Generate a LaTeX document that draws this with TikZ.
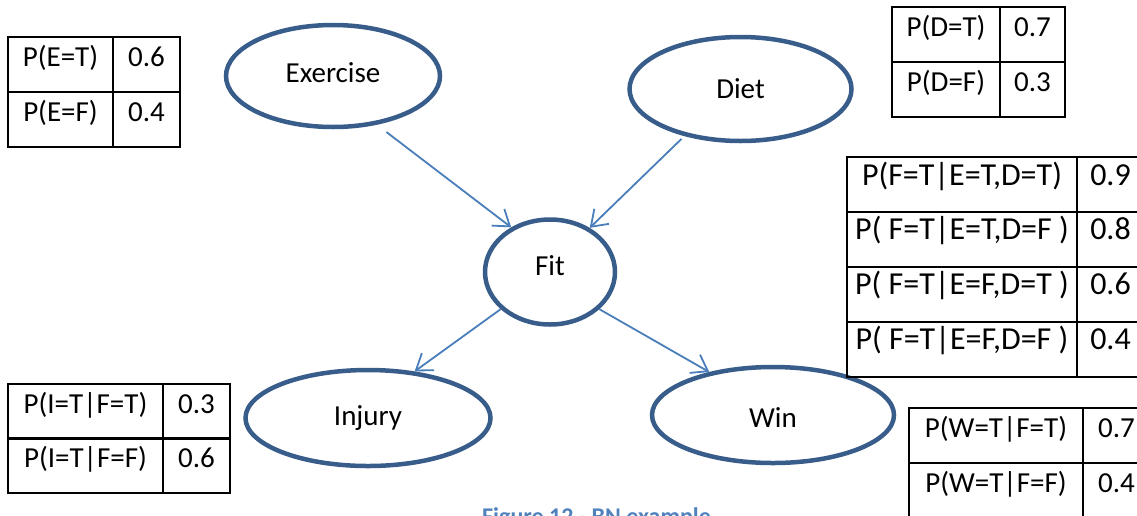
\documentclass[tikz,border=0pt]{standalone}
\usepackage{fontspec}
\setmainfont{Carlito}
\usetikzlibrary{shapes.geometric,arrows.meta}
\definecolor{nodeblue}{RGB}{56,93,138}
\definecolor{linkblue}{RGB}{74,126,187}
\definecolor{capblue}{RGB}{79,129,189}
\tikzset{
  bnnode/.style={ellipse, draw=nodeblue, line width=4.5pt, fill=white, inner sep=0pt,
    font=\fontsize{29}{34}\selectfont},
  link/.style={draw=linkblue, line width=1.8pt,
    -{Straight Barb[length=15pt,width=21pt,line width=1.8pt]}},
  cell/.style={draw=black, line width=2pt, inner xsep=0pt, inner ysep=0pt, outer sep=0pt,
    anchor=north west, text height=29.5pt, text depth=25.5pt,
    font=\fontsize{29}{34}\selectfont},
  bigcell/.style={cell, text height=28.3pt, text depth=26.7pt,
    font=\fontsize{32}{36}\selectfont},
}
\begin{document}
\begin{tikzpicture}[x=1pt,y=-1pt]
\useasboundingbox (0,0) rectangle (1137,515);
\clip (0,0) rectangle (1137,515);

% network nodes
\node[bnnode, minimum width=214pt, minimum height=102pt, text depth=6pt] (ex) at (333,76) {Exercise};
\node[bnnode, minimum width=222pt, minimum height=104pt] (diet) at (740.5,89) {Diet};
\node[bnnode, minimum width=130pt, minimum height=105pt, text depth=12pt] (fit) at (550,272) {Fit};
\node[bnnode, minimum width=245pt, minimum height=96pt] (inj) at (368,418) {Injury};
\node[bnnode, minimum width=242pt, minimum height=96pt, text height=24pt] (win) at (773,415) {Win};

% dependencies
\draw[link, shorten <=12pt] (ex.-48) -- (fit.131);
\draw[link, shorten <=4pt] (diet.-140) -- (fit.48);
\draw[link] (fit.-143) -- (inj.45);
\draw[link] (fit.-37) -- (win.146);

% P(E)
\node[cell, minimum width=105pt] (e1) at (8,37) {P(E=T)};
\node[cell, minimum width=67pt] (e1v) at (113,37) {0.6};
\node[cell, minimum width=105pt] (e2) at (8,92) {P(E=F)};
\node[cell, minimum width=67pt] (e2v) at (113,92) {0.4};

% P(D)
\node[cell, minimum width=108pt] (d1) at (892,7) {P(D=T)};
\node[cell, minimum width=65pt] (d1v) at (1000,7) {0.7};
\node[cell, minimum width=108pt] (d2) at (892,62) {P(D=F)};
\node[cell, minimum width=65pt] (d2v) at (1000,62) {0.3};

% P(F | E, D)
\node[bigcell, minimum width=230pt] (f1) at (847,157) {P(F=T|E=T,D=T)};
\node[bigcell, minimum width=67pt] (f1v) at (1077,157) {0.9};
\node[bigcell, minimum width=230pt] (f2) at (847,211.5) {P( F=T|E=T,D=F )};
\node[bigcell, minimum width=67pt] (f2v) at (1077,211.5) {0.8};
\node[bigcell, minimum width=230pt] (f3) at (847,266.5) {P( F=T|E=F,D=T )};
\node[bigcell, minimum width=67pt] (f3v) at (1077,266.5) {0.6};
\node[bigcell, minimum width=230pt] (f4) at (847,321.5) {P( F=T|E=F,D=F )};
\node[bigcell, minimum width=67pt] (f4v) at (1077,321.5) {0.4};

% P(I | F)
\node[cell, minimum width=155pt] (i1) at (8,384) {P(I=T|F=T)};
\node[cell, minimum width=67pt] (i1v) at (163,384) {0.3};
\node[cell, minimum width=155pt] (i2) at (8,438) {P(I=T|F=F)};
\node[cell, minimum width=67pt] (i2v) at (163,438) {0.6};

% P(W | F)
\node[cell, minimum width=174pt] (w1) at (909,408) {P(W=T|F=T)};
\node[cell, minimum width=67pt] (w1v) at (1083,408) {0.7};
\node[cell, minimum width=174pt] (w2) at (909,463) {P(W=T|F=F)};
\node[cell, minimum width=67pt] (w2v) at (1083,463) {0.4};

% caption
\node[anchor=base west, inner sep=0pt, text=capblue, font=\bfseries\fontsize{24}{28}\selectfont]
  (cap) at (482,524.5) {Figure 12 - BN example};
\end{tikzpicture}
\end{document}
